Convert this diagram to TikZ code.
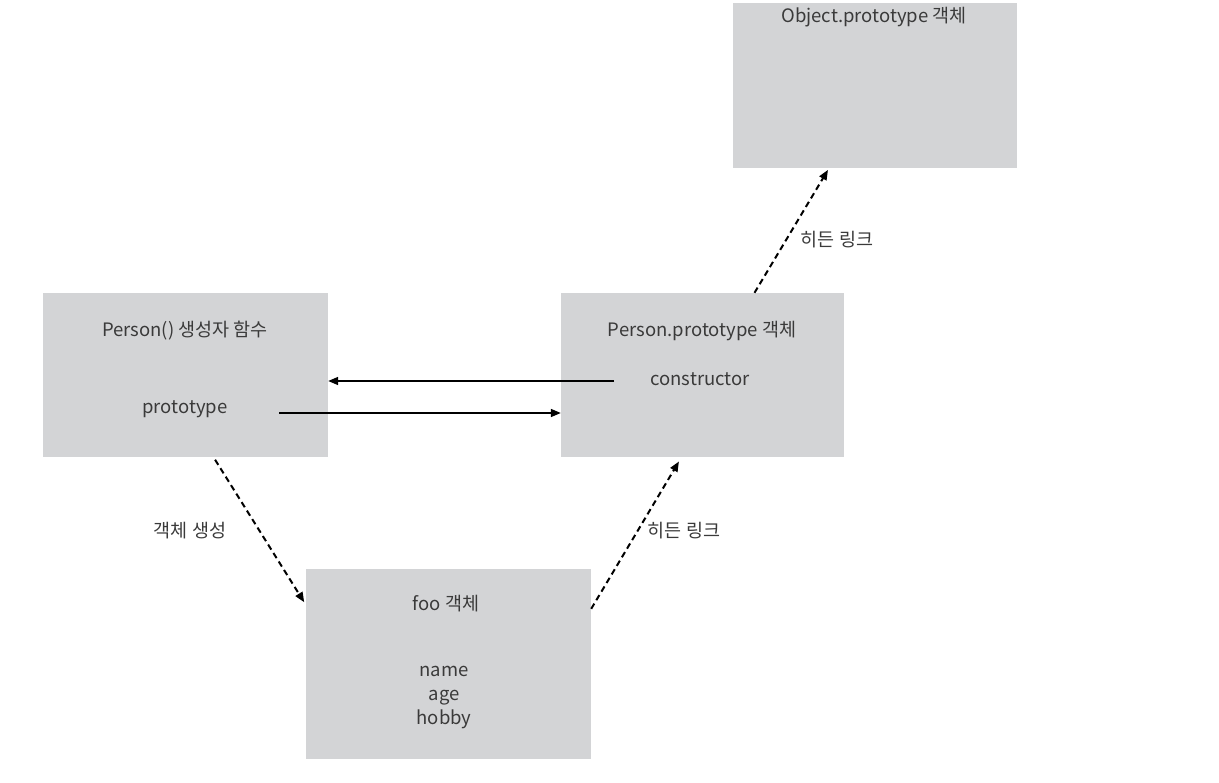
\documentclass[tikz,border=0pt]{standalone}
\usepackage{fontspec}
\setmainfont{Noto Sans CJK KR}
\usetikzlibrary{arrows.meta}
\definecolor{boxgray}{HTML}{D3D4D6}
\definecolor{ink}{HTML}{3A3A3A}
\tikzset{
  objbox/.style={fill=boxgray, draw=none, inner sep=0pt, rectangle},
  lbl/.style={text=ink, font=\fontsize{18.5}{22}\selectfont, inner sep=0pt, text height=13pt, text depth=4pt},
  reflink/.style={line width=1.6pt, draw=black, -{Triangle[length=10pt,width=8pt]}},
  hidden/.style={line width=2pt, draw=black, dash pattern=on 6pt off 4pt, -{Triangle[length=10pt,width=8pt]}}
}
\begin{document}
\begin{tikzpicture}[x=1pt,y=-1pt]
\useasboundingbox (0,0) rectangle (1219,783);

% object boxes
\node[objbox, minimum width=284pt, minimum height=165pt] (obj) at (875,85.5) {};
\node[objbox, minimum width=285pt, minimum height=164pt] (person) at (185.5,375) {};
\node[objbox, minimum width=283pt, minimum height=164pt] (pp) at (702.5,375) {};
\node[objbox, minimum width=285pt, minimum height=190pt] (foo) at (448.5,664) {};

% box contents
\node[lbl] (objT) at (874,18) {Object.prototype 객체};
\node[lbl] (personT) at (185,332) {Person() 생성자 함수};
\node[lbl] (protoT) at (185,409) {prototype};
\node[lbl] (ppT) at (702,332) {Person.prototype 객체};
\node[lbl] (ctorT) at (700,381) {constructor};
\node[lbl] (fooT) at (446,606) {foo 객체};
\node[lbl] (nameT) at (444,672) {name};
\node[lbl] (ageT) at (444,696) {age};
\node[lbl] (hobbyT) at (444,720) {hobby};

% link labels
\node[lbl] (hidUp) at (837,242) {히든 링크};
\node[lbl] (hidLow) at (684,533) {히든 링크};
\node[lbl] (create) at (190,533) {객체 생성};

% constructor <-> prototype references
\coordinate (ctorStart) at (614,381);
\coordinate (protoStart) at (279,413);
\draw[reflink] (ctorStart) -- (ctorStart -| person.east);
\draw[reflink] (protoStart) -- (protoStart -| pp.west);

% creation and hidden links
\draw[hidden, shorten <=3pt, shorten >=3pt] ([xshift=28pt]person.south) -- ([yshift=-36pt]foo.north west);
\draw[hidden, shorten >=5pt] ([yshift=-40pt]foo.north east) -- ([xshift=-21pt]pp.south);
\draw[hidden, shorten >=2pt] ([xshift=52pt]pp.north) -- ([xshift=-46pt]obj.south);
\end{tikzpicture}
\end{document}
